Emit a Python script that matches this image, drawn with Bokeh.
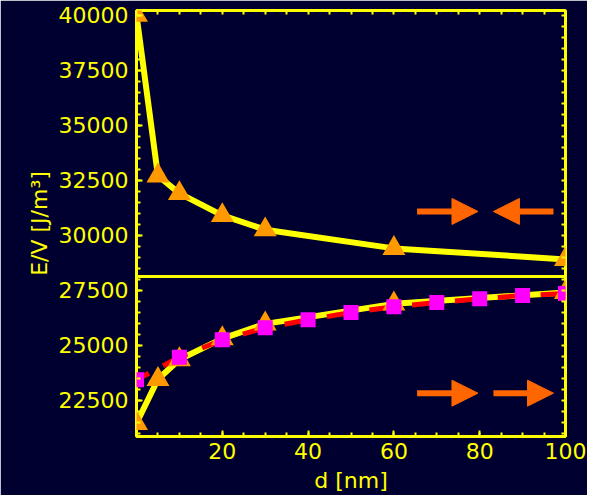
from bokeh.plotting import figure
from bokeh.models import Range1d, LinearAxis, FixedTicker, Span, Arrow, NormalHead, ColumnDataSource
from bokeh.embed import file_html
from bokeh.resources import INLINE

# ---- data ----
d_upper = [0, 5, 10, 20, 30, 60, 100]
e_upper = [40000, 32700, 31900, 30900, 30250, 29400, 28900]

d_lower = [0, 5, 10, 20, 30, 60, 100]
e_lower = [21450, 23450, 24350, 25300, 25970, 26880, 27400]

d_sq = [0, 10, 20, 30, 40, 50, 60, 70, 80, 90, 100]
e_sq = [23430, 24455, 25245, 25790, 26155, 26485, 26745, 26940, 27110, 27260, 27350]

separator_level = 28120

x_ticks = [20, 40, 60, 80, 100]
x_minor = list(range(0, 101, 5))
y_ticks = [22500, 25000, 27500, 30000, 32500, 35000, 37500, 40000]
y_minor = list(range(21000, 40001, 500))

BG = "#000030"
YEL = "#FFFF00"
ORANGE = "#FF9900"
ARROW = "#FF6600"
RED = "#FF0000"
MAG = "#FF00FF"
FONT = "DejaVu Sans"

p = figure(frame_width=429, frame_height=426, output_backend="svg", toolbar_location=None,
           x_range=Range1d(0, 100), y_range=Range1d(20850, 40214),
           x_axis_location=None, y_axis_location=None)
p.min_border_left = 136
p.min_border_right = 22
p.min_border_top = 10
p.min_border_bottom = 0
p.background_fill_color = BG
p.border_fill_color = BG
p.outline_line_color = YEL
p.outline_line_width = 3
p.xgrid.visible = False
p.ygrid.visible = False


def style_axis(ax, show_labels):
    ax.axis_line_color = None
    ax.major_tick_line_color = YEL
    ax.minor_tick_line_color = YEL
    ax.major_tick_line_width = 2
    ax.minor_tick_line_width = 2
    ax.major_tick_in = 6
    ax.major_tick_out = 0
    ax.minor_tick_in = 4
    ax.minor_tick_out = 0
    if show_labels:
        ax.major_label_text_color = YEL
        ax.major_label_text_font = FONT
        ax.major_label_text_font_size = "22px"
        ax.axis_label_text_color = YEL
        ax.axis_label_text_font = FONT
        ax.axis_label_text_font_size = "22px"
        ax.axis_label_text_font_style = "normal"


xb = LinearAxis(ticker=FixedTicker(ticks=x_ticks, minor_ticks=x_minor), axis_label="d [nm]")
style_axis(xb, True)
xb.major_label_standoff = 6
xb.axis_label_standoff = 6
p.add_layout(xb, "below")

yl = LinearAxis(ticker=FixedTicker(ticks=y_ticks, minor_ticks=y_minor), axis_label="E/V [J/m³]")
style_axis(yl, True)
yl.major_label_standoff = 8
yl.axis_label_standoff = 4
p.add_layout(yl, "left")

# frame ticks on top and right: all drawn as minor ticks, no labels
xa = LinearAxis(ticker=FixedTicker(ticks=[], minor_ticks=x_minor))
style_axis(xa, False)
p.add_layout(xa, "above")

yr = LinearAxis(ticker=FixedTicker(ticks=[], minor_ticks=y_minor))
style_axis(yr, False)
p.add_layout(yr, "right")

src_up = ColumnDataSource(dict(d=d_upper, e=e_upper))
src_lo = ColumnDataSource(dict(d=d_lower, e=e_lower))
src_sq = ColumnDataSource(dict(d=d_sq, e=e_sq))

p.add_layout(Span(location=separator_level, dimension="width", line_color=YEL, line_width=3))

p.line("d", "e", source=src_up, line_color=YEL, line_width=6, line_join="round")
p.line("d", "e", source=src_lo, line_color=YEL, line_width=6, line_join="round")
p.line("d", "e", source=src_sq, line_color=RED, line_width=5, line_dash="27 16", line_dash_offset=13)

p.scatter("d", "e", source=src_up, marker="triangle", size=23, fill_color=ORANGE, line_color=None)
p.scatter("d", "e", source=src_lo, marker="triangle", size=23, fill_color=ORANGE, line_color=None)
p.scatter("d", "e", source=src_sq, marker="square", size=15, fill_color=MAG, line_color=None)

# arrows (annotations)
for xs, xe, yv in [(65.4, 79.6, 31080), (97.2, 83.2, 31080), (65.4, 79.6, 22820), (83.2, 97.2, 22820)]:
    p.add_layout(Arrow(x_start=xs, y_start=yv, x_end=xe, y_end=yv, line_color=ARROW, line_width=6,
                       end=NormalHead(size=26, fill_color=ARROW, line_color=ARROW, line_width=1)))

open("out.html", "w").write(file_html(p, INLINE))
